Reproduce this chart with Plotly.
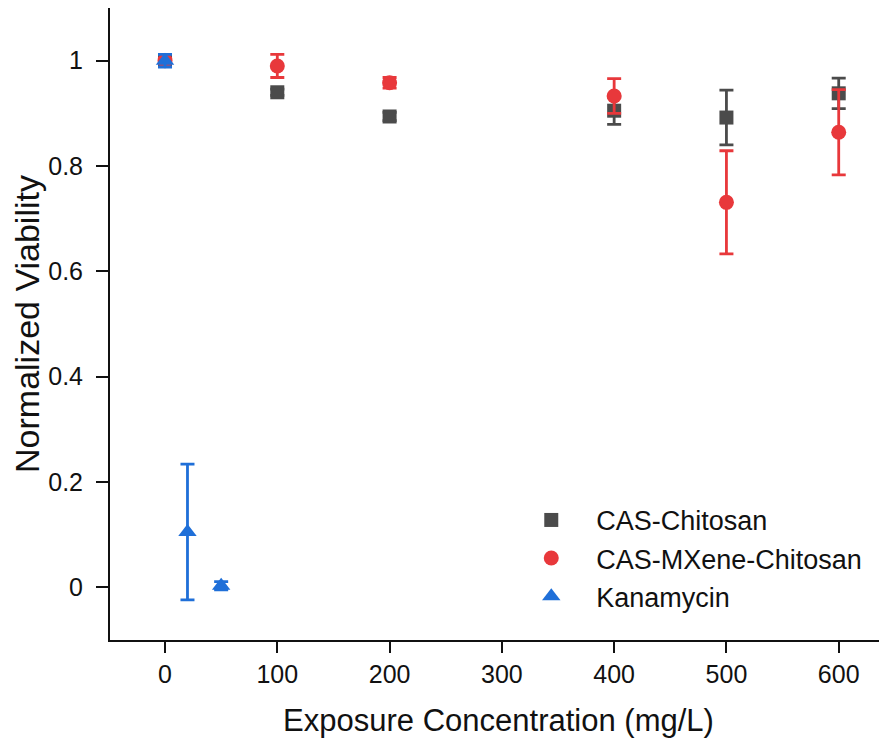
import plotly.graph_objects as go

# Data
cas_x = [0, 100, 200, 400, 500, 600]
cas_y = [1.0, 0.94, 0.894, 0.905, 0.892, 0.938]
cas_err = [0.005, 0.006, 0.008, 0.026, 0.052, 0.029]

mx_x = [0, 100, 200, 400, 500, 600]
mx_y = [1.0, 0.99, 0.958, 0.933, 0.731, 0.864]
mx_err = [0.005, 0.022, 0.01, 0.033, 0.098, 0.081]

kan_x = [0, 20, 50]
kan_y = [1.0, 0.105, 0.003]
kan_err = [0.012, 0.129, 0.008]

x_ticks = [0, 100, 200, 300, 400, 500, 600]
y_ticks = [0, 0.2, 0.4, 0.6, 0.8, 1.0]
y_ticktext = ["0", "0.2", "0.4", "0.6", "0.8", "1"]

names = ["CAS-Chitosan", "CAS-MXene-Chitosan", "Kanamycin"]
colors = ["#4b4b4b", "#e8383b", "#1f6fd8"]
symbols = ["square", "circle", "triangle-up"]

fig = go.Figure()
for xs, ys, es, nm, c, s, sz in [
    (cas_x, cas_y, cas_err, names[0], colors[0], symbols[0], 14),
    (mx_x, mx_y, mx_err, names[1], colors[1], symbols[1], 15),
    (kan_x, kan_y, kan_err, names[2], colors[2], symbols[2], 16),
]:
    fig.add_trace(go.Scatter(
        x=xs, y=ys, mode="markers", name=nm,
        marker=dict(symbol=s, color=c, size=sz, line=dict(width=0)),
        error_y=dict(type="data", array=es, visible=True, color=c, thickness=2.8, width=7),
    ))

font_family = "Liberation Sans, Arial, sans-serif"
fig.update_layout(
    width=879, height=734,
    margin=dict(l=102, r=0, t=0, b=102, autoexpand=False),
    paper_bgcolor="white", plot_bgcolor="white",
    font=dict(family=font_family, color="#111111"),
    showlegend=True,
    legend=dict(x=0.51, y=0.228, xanchor="left", yanchor="top",
                font=dict(size=27, family=font_family, color="#111111"),
                bgcolor="rgba(0,0,0,0)", itemsizing="trace", itemwidth=80,
                tracegroupgap=0),
    xaxis=dict(
        range=[-49, 643], tickvals=x_ticks,
        showline=True, linecolor="#111111", linewidth=2, mirror=True,
        ticks="outside", ticklen=11, tickwidth=1.5, tickcolor="#111111",
        showgrid=False, zeroline=False, automargin=False,
        tickfont=dict(size=25, family=font_family),
        title=dict(text="Exposure Concentration (mg/L)", font=dict(size=31, family=font_family), standoff=22),
    ),
    yaxis=dict(
        range=[-0.1, 1.1], tickvals=y_ticks, ticktext=y_ticktext,
        showline=True, linecolor="#111111", linewidth=2, mirror=False,
        ticks="outside", ticklen=12, tickwidth=1.5, tickcolor="#111111",
        ticklabelstandoff=8,
        showgrid=False, zeroline=False, automargin=False,
        tickfont=dict(size=25, family=font_family),
        title=dict(text="Normalized Viability", font=dict(size=34, family=font_family), standoff=5),
    ),
)

fig.write_html("out.html")
